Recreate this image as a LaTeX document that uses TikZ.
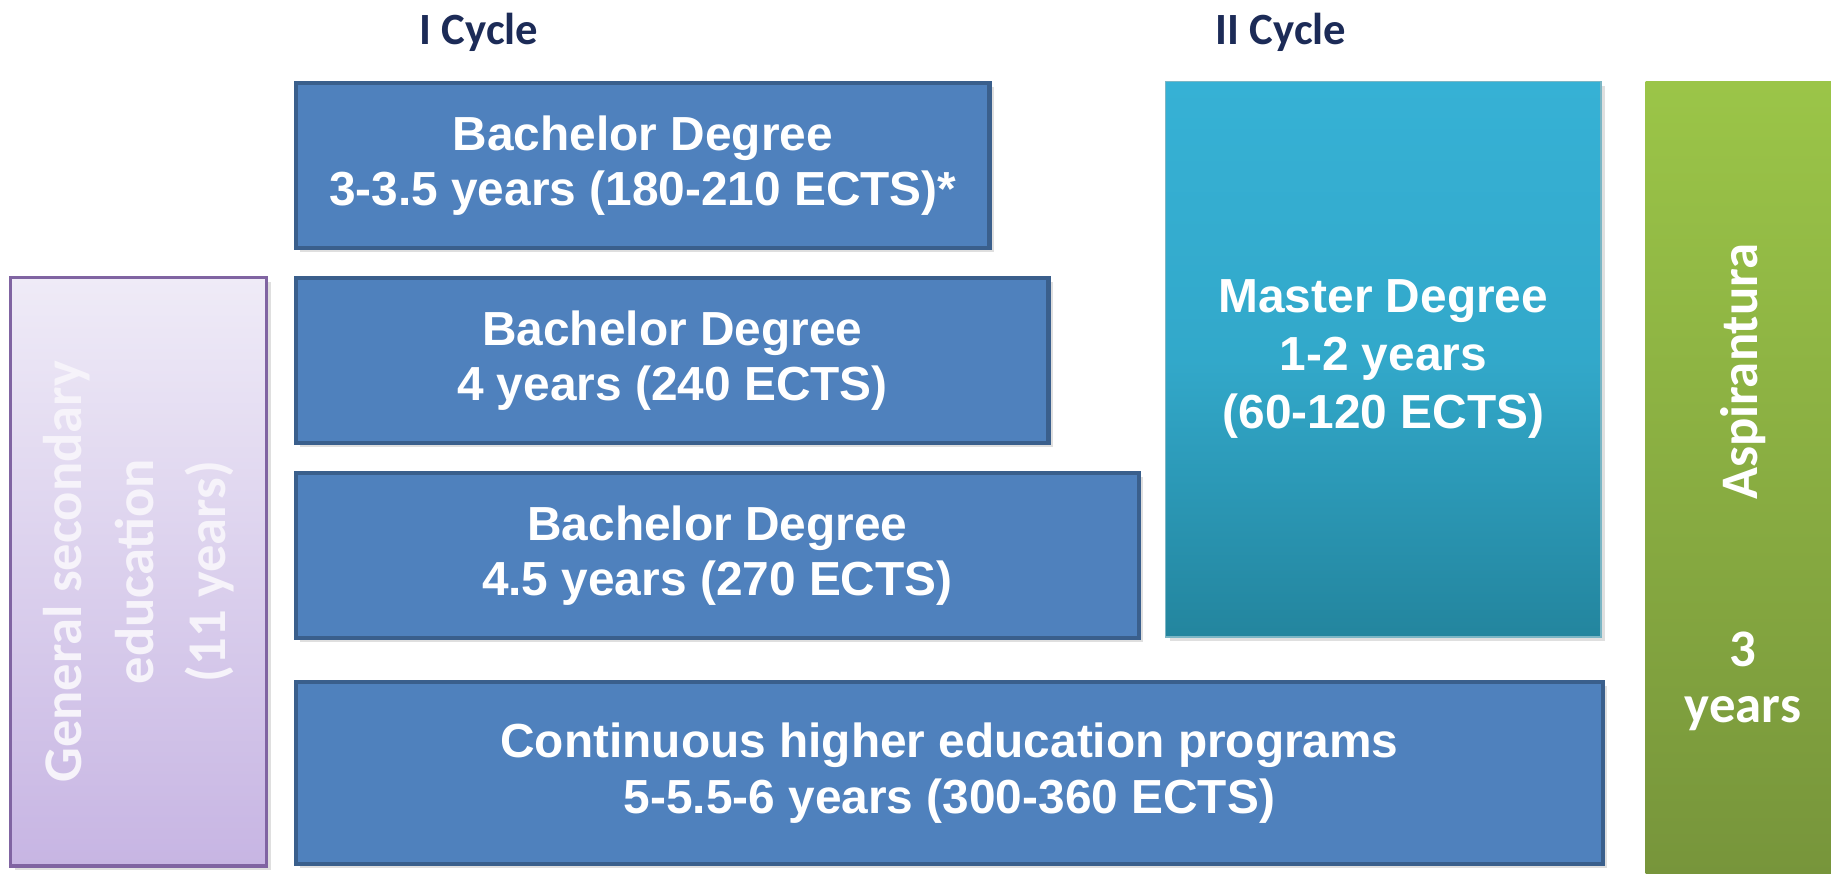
\documentclass[tikz,border=0pt]{standalone}
\usepackage{fontspec}
\setmainfont{Liberation Sans}
\newfontfamily\calibri{Carlito}
\usetikzlibrary{shadows}
\definecolor{bachfill}{HTML}{4F81BD}
\definecolor{bachline}{HTML}{3A5F8C}
\definecolor{mastertop}{HTML}{36B1D5}
\definecolor{masterbot}{HTML}{23859E}
\definecolor{asptop}{HTML}{9BC548}
\definecolor{aspbot}{HTML}{77953B}
\definecolor{gentop}{HTML}{EFEBF7}
\definecolor{genbot}{HTML}{C7B5E3}
\definecolor{genline}{HTML}{8064A2}
\definecolor{gentext}{HTML}{F6F3FA}
\definecolor{cyclecol}{HTML}{1C2B57}

\begin{document}
\begin{tikzpicture}[x=0.01cm, y=-0.01cm,
  bachbox/.style={draw=bachline, line width=1.2pt, fill=bachfill, anchor=north west,
    inner sep=0pt, text=white, align=center,
    font=\fontsize{13.6}{15.7}\selectfont\bfseries,
    drop shadow={shadow xshift=1.2pt, shadow yshift=-1.2pt, opacity=0.25}},
  cyclelabel/.style={text=cyclecol, font=\calibri\fontsize{12.7}{15}\selectfont\bfseries},
  sidetext/.style={text=white, align=center, font=\calibri\fontsize{15}{16}\selectfont\bfseries}]

 \useasboundingbox (0,0) rectangle (1831,874);

 % cycle headings
 \node[cyclelabel] (cycleI) at (479,32) {I Cycle};
 \node[cyclelabel] (cycleII) at (1281,32) {II Cycle};

 % first cycle
 \node[bachbox, minimum width=6.93cm, minimum height=1.65cm] (bachA) at (294,81)
   {Bachelor Degree\\3-3.5 years (180-210 ECTS)*};
 \node[bachbox, minimum width=7.52cm, minimum height=1.65cm] (bachB) at (294,276)
   {Bachelor Degree\\4 years (240 ECTS)};
 \node[bachbox, minimum width=8.42cm, minimum height=1.65cm] (bachC) at (294,471)
   {Bachelor Degree\\4.5 years (270 ECTS)};
 \node[bachbox, minimum width=13.06cm, minimum height=1.82cm] (contin) at (294,680)
   {Continuous higher education programs\\5-5.5-6 years (300-360 ECTS)};

 % second cycle
 \node[anchor=north west, inner sep=0pt, minimum width=4.35cm, minimum height=5.55cm,
   top color=mastertop, bottom color=masterbot, middle color=mastertop!80!masterbot,
   draw=masterbot!60!white, line width=0.4pt,
   drop shadow={shadow xshift=1.2pt, shadow yshift=-1.2pt, opacity=0.25},
   text=white, align=center, font=\fontsize{13.6}{16.5}\selectfont\bfseries] (master) at (1165,81)
   {Master Degree\\1-2 years\\(60-120 ECTS)};

 % aspirantura
 \node[anchor=north west, inner sep=0pt, minimum width=1.86cm, minimum height=7.93cm,
   top color=asptop, bottom color=aspbot] (aspir) at (1645,81) {};
 \node[sidetext, rotate=90] (aspname) at (1743,372) {Aspirantura};
 \node[sidetext] (aspyears) at (1743,681) {3\\years};

 % general secondary education
 \node[anchor=north west, inner sep=0pt, minimum width=2.56cm, minimum height=5.88cm,
   top color=gentop, bottom color=genbot, draw=genline, line width=0.9pt,
   drop shadow={shadow xshift=1.2pt, shadow yshift=-1.2pt, opacity=0.25}] (general) at (9,276) {};
 \node[sidetext, text=gentext, rotate=90, font=\calibri\fontsize{15.5}{20.5}\selectfont\bfseries]
   (gentxt) at (general.center) {General secondary\\education\\(11 years)};

\end{tikzpicture}
\end{document}
